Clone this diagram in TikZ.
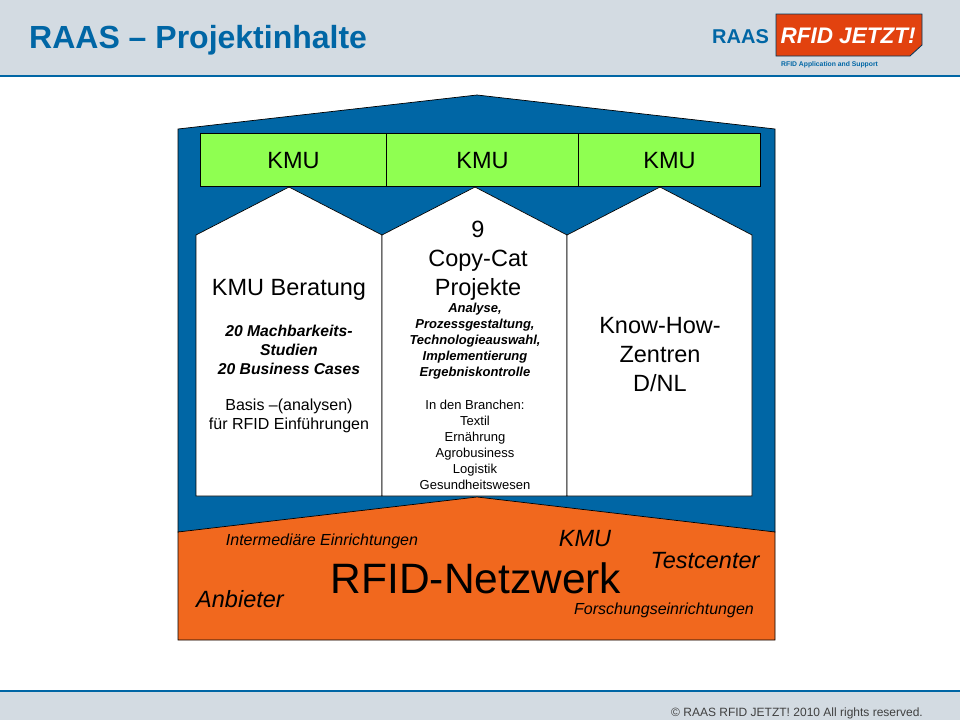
\documentclass[tikz,border=0pt]{standalone}
\usepackage{fontspec}
\setmainfont{Liberation Sans}
\usetikzlibrary{positioning}
\definecolor{bandcolor}{RGB}{211, 219, 226}
\definecolor{raasblue}{RGB}{0, 102, 165}
\definecolor{kmugreen}{RGB}{143, 255, 81}
\definecolor{netzorange}{RGB}{241, 104, 30}
\definecolor{logored}{RGB}{226, 66, 15}
\newcommand{\fs}[1]{\fontsize{#1}{#1}\selectfont}

\begin{document}
\begin{tikzpicture}[
    x=1pt, y=-1pt,
    band/.style={fill=bandcolor, draw=none},
    rule/.style={draw=raasblue, line width=1.6pt},
    house/.style={draw=black, line width=0.7pt, line join=miter},
    kmubox/.style={draw=black, fill=kmugreen, line width=0.7pt, minimum height=53pt, inner sep=0pt, font=\fs{23.5}},
    big/.style={font=\fs{23.5}, align=center, text=black, inner sep=0pt},
    small/.style={font=\fs{13}, align=center, text=black, inner sep=0pt},
    smallb/.style={font=\bfseries\itshape\fs{13}, align=center, text=black, inner sep=0pt},
    netz/.style={font=\itshape\fs{23.5}, inner sep=0pt}
]
    \useasboundingbox (0,0) rectangle (960,720);

    % Header and footer
    \fill[band] (0,0) rectangle (960,76);
    \draw[rule] (0,76) -- (960,76);
    \fill[band] (0,691) rectangle (960,720);
    \draw[rule] (0,691) -- (960,691);
    \node[font=\bfseries\fs{32}, text=raasblue, anchor=west, inner sep=0pt] (title) at (29,40) {RAAS – Projektinhalte};
    \node[font=\fs{12}, text=black!75, anchor=east, inner sep=0pt] (copy) at (923,713) {© RAAS RFID JETZT! 2010 All rights reserved.};

    % Logo
    \node[font=\bfseries\fs{20}, text=raasblue, anchor=west, inner sep=0pt] (logoraas) at (712,37) {RAAS};
    \fill[logored, draw=black!45!raasblue, line width=0.8pt] (776,14) -- (922,14) -- (922,45) -- (910,56) -- (776,56) -- cycle;
    \node[font=\bfseries\itshape\fs{22.5}, text=white, inner sep=0pt] (logotext) at (848,35.5) {RFID JETZT!};
    \node[font=\bfseries\fs{6.8}, text=raasblue, anchor=west, inner sep=0pt] (logosub) at (781,65) {RFID Application and Support};

    % Roof and foundation
    \draw[house, fill=raasblue] (178,129) -- (477,95) -- (775,129) -- (775,532) -- (178,532) -- cycle;
    \draw[house, fill=netzorange] (178,532) -- (477,497) -- (775,532) -- (775,640) -- (178,640) -- cycle;

    % Pillars
    \draw[house, fill=white] (196,496) -- (196,235) -- (289,187) -- (382,235) -- (382,496) -- cycle;
    \draw[house, fill=white] (382,496) -- (382,235) -- (475,187) -- (567,235) -- (567,496) -- cycle;
    \draw[house, fill=white] (567,496) -- (567,235) -- (660,187) -- (752,235) -- (752,496) -- cycle;

    % KMU row
    \node[kmubox, minimum width=186pt, text depth=0pt] (kmua) at (293.5,160) {KMU};
    \node[kmubox, minimum width=192pt, text depth=0pt] (kmub) at (482.5,160) {KMU};
    \node[kmubox, minimum width=182pt, text depth=0pt] (kmuc) at (669.5,160) {KMU};

    % Left pillar
    \node[big] (beratung) at (289,290) {KMU Beratung};
    \node[smallb, font=\bfseries\itshape\fs{15.7}] (studien) at (289,350) {20 Machbarkeits-\\[3.5pt]Studien\\[3.5pt]20 Business Cases};
    \node[small, font=\fs{16}] (basis) at (289,416) {Basis –(analysen)\\[3pt]für RFID Einführungen};

    % Middle pillar
    \node[big] (copycat) at (478,261) {9\\[5.5pt]Copy-Cat\\[5.5pt]Projekte};
    \node[smallb] (analyse) at (475,341.5) {Analyse,\\[3pt]Prozessgestaltung,\\[3pt]Technologieauswahl,\\[3pt]Implementierung\\[3pt]Ergebniskontrolle};
    \node[small] (branchen) at (475,445) {In den Branchen:\\[3pt]Textil\\[3pt]Ernährung\\[3pt]Agrobusiness\\[3pt]Logistik\\[3pt]Gesundheitswesen};

    % Right pillar
    \node[big] (knowhow) at (660,355) {Know-How-\\[5.5pt]Zentren\\[5.5pt]D/NL};

    % Network labels
    \node[font=\fs{42.5}, inner sep=0pt] (netzwerk) at (476,578) {RFID-Netzwerk};
    \node[font=\itshape\fs{16}, inner sep=0pt] (intermediaer) at (322,541.5) {Intermediäre Einrichtungen};
    \node[netz] (kmunetz) at (585,539) {KMU};
    \node[netz] (testcenter) at (705,561) {Testcenter};
    \node[netz] (anbieter) at (240,599) {Anbieter};
    \node[font=\itshape\fs{16}, inner sep=0pt] (forschung) at (664,610) {Forschungseinrichtungen};
\end{tikzpicture}
\end{document}
